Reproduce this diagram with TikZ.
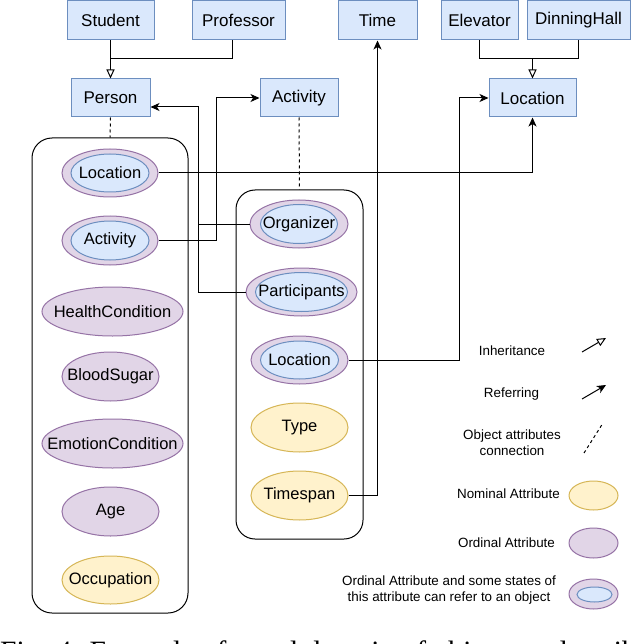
\documentclass[tikz,border=0pt]{standalone}
\usepackage{fontspec}
\setmainfont{Liberation Sans}
\newfontfamily\capfont{Liberation Serif}
\usetikzlibrary{shapes.geometric,arrows.meta}
\definecolor{bfill}{HTML}{DAE8FC}
\definecolor{bdraw}{HTML}{6C8EBF}
\definecolor{pfill}{HTML}{E1D5E7}
\definecolor{pdraw}{HTML}{9673A6}
\definecolor{yfill}{HTML}{FFF2CC}
\definecolor{ydraw}{HTML}{D6B656}
\newcommand\ztxt[1]{\makebox[0pt]{#1}}
\begin{document}
\begin{tikzpicture}[x=1pt,y=-1pt,
  box/.style={rectangle, draw=bdraw, fill=bfill, line width=1pt, inner sep=0pt, font=\fontsize{17}{20}\selectfont},
  ell/.style={ellipse, line width=1pt, inner sep=0pt, font=\fontsize{16.5}{20}\selectfont},
  pur/.style={ell, draw=pdraw, fill=pfill},
  yel/.style={ell, draw=ydraw, fill=yfill},
  inn/.style={ell, draw=bdraw, fill=bfill},
  cont/.style={rectangle, draw=black, line width=1pt, rounded corners=20pt, inner sep=0pt},
  conn/.style={draw=black, line width=1pt},
  refa/.style={conn, -{Stealth[length=9pt,width=8pt,inset=2.5pt]}},
  inha/.style={conn, -{Triangle[open,length=9pt,width=8pt,fill=white]}},
  dashl/.style={conn, dash pattern=on 3pt off 3pt},
  leg/.style={inner sep=0pt, align=center, font=\fontsize{13.4}{16}\selectfont},
]
\useasboundingbox (0,0) rectangle (638,644);
\fill[white] (0,0) rectangle (638,644);

% containers
\node[cont, minimum width=156pt, minimum height=475pt] (pbox) at (110,375.5) {};
\node[cont, minimum width=127pt, minimum height=349pt, rounded corners=19pt] (abox) at (299.5,364.5) {};

% top boxes
\node[box, minimum width=87pt, minimum height=39pt] (student) at (110.5,20.5) {Student};
\node[box, minimum width=93pt, minimum height=39pt] (professor) at (238.5,20.5) {Professor};
\node[box, minimum width=79pt, minimum height=39pt] (time) at (377.5,20.5) {Time};
\node[box, minimum width=77pt, minimum height=39pt] (elevator) at (479.5,20.5) {Elevator};
\node[box, minimum width=103pt, minimum height=39pt] (dinning) at (578.5,20.5) {DinningHall};
\node[box, minimum width=79pt, minimum height=38pt] (person) at (110.5,98) {Person};
\node[box, minimum width=78pt, minimum height=38pt] (activity) at (299,98) {Activity};
\node[box, minimum width=87pt, minimum height=38pt] (location) at (532.5,98) {Location};

% person attributes
\node[pur, minimum width=96pt, minimum height=48pt] (pLoc) at (110,173) {};
\node[inn, minimum width=78pt, minimum height=38pt] (pLocIn) at (pLoc.center) {\ztxt{Location}};
\node[pur, minimum width=96pt, minimum height=49pt] (pAct) at (110,240.5) {};
\node[inn, minimum width=78pt, minimum height=39pt] (pActIn) at (pAct.center) {\ztxt{Activity}};
\node[pur, minimum width=141pt, minimum height=49pt] (pHea) at (112.5,311.5) {\ztxt{HealthCondition}};
\node[pur, minimum width=97pt, minimum height=49pt] (pBlo) at (110.5,376.5) {\ztxt{BloodSugar}};
\node[pur, minimum width=141pt, minimum height=49pt] (pEmo) at (112.5,443.5) {\ztxt{EmotionCondition}};
\node[pur, minimum width=97pt, minimum height=49pt] (pAge) at (110.5,511.5) {\ztxt{Age}};
\node[yel, minimum width=97pt, minimum height=48pt] (pOcc) at (110.5,580) {\ztxt{Occupation}};

% activity attributes
\node[pur, minimum width=98pt, minimum height=48pt] (aOrg) at (299,224) {};
\node[inn, minimum width=77pt, minimum height=39pt] (aOrgIn) at (aOrg.center) {\ztxt{Organizer}};
\node[pur, minimum width=111pt, minimum height=48pt] (aPar) at (301.5,292) {};
\node[inn, minimum width=92pt, minimum height=39pt] (aParIn) at (aPar.center) {\ztxt{Participants}};
\node[pur, minimum width=97pt, minimum height=48pt] (aLoc) at (299.5,360) {};
\node[inn, minimum width=78pt, minimum height=38pt] (aLocIn) at (aLoc.center) {\ztxt{Location}};
\node[yel, minimum width=97pt, minimum height=49pt] (aTyp) at (299.5,427.5) {\ztxt{Type}};
\node[yel, minimum width=97pt, minimum height=49pt] (aTim) at (299.5,495.5) {\ztxt{Timespan}};

% junction coordinates
\coordinate (j1) at (110.5,59);
\coordinate (j2) at (532.5,59);
\coordinate (c1) at (216.5,98);
\coordinate (c2) at (198,107);
\coordinate (c3) at (459,98);

% inheritance
\draw[inha] (student.south) -- (person.north);
\draw[conn] ([xshift=-6.5pt]professor.south) |- (j1);
\draw[conn] (elevator.south) |- (j2);
\draw[conn] (dinning.south) |- (j2);
\draw[inha] (j2) -- (location.north);

% object attribute connections
\draw[dashl] (person.south) -- (pbox.north);
\draw[dashl] (activity.south) -- (abox.north);

% referring
\draw[refa] (pLoc.east) -| (location.south);
\draw[refa] (pAct.east) -| (c1) -- (activity.west);
\draw[refa] (aOrg.west) -| (c2) -- ([yshift=-9pt]person.east);
\draw[conn] (aPar.west) -| (c2);
\draw[refa] (aLoc.east) -| (c3) -- (location.west);
\draw[refa] (aTim.east) -| (time.south);

% legend
\node[leg] (lInh) at (512,351) {Inheritance};
\coordinate (li1) at (582,352);
\coordinate (li2) at (606,338);
\draw[inha] (li1) -- (li2);
\node[leg] (lRef) at (511.5,394) {Referring};
\coordinate (lr1) at (582,399);
\coordinate (lr2) at (606,385);
\draw[refa] (lr1) -- (lr2);
\node[leg] (lObj) at (512,443) {Object attributes\\connection};
\coordinate (lo1) at (584,453);
\coordinate (lo2) at (603,423);
\draw[dashl] (lo1) -- (lo2);
\node[leg] (lNom) at (508.5,494) {Nominal Attribute};
\node[yel, minimum width=49pt, minimum height=29pt] (eNom) at (593.5,495.5) {};
\node[leg] (lOrd) at (506.5,543) {Ordinal Attribute};
\node[pur, minimum width=49pt, minimum height=30pt] (eOrd) at (593.5,543) {};
\node[leg] (lOrr) at (449,590) {Ordinal Attribute and some states of\\this attribute can refer to an object};
\node[pur, minimum width=49pt, minimum height=30pt] (eOrr) at (593.5,594) {};
\node[inn, minimum width=35pt, minimum height=15pt] (eOrrIn) at (594.5,594.5) {};

% caption (cut by the page edge, as in the reference)
\node[anchor=base west, inner sep=0pt, font=\capfont\fontsize{29.5}{34}\selectfont] (cap) at (0,661) {Fig. 4: Example of a real domain of objects and attributes};
\end{tikzpicture}
\end{document}
